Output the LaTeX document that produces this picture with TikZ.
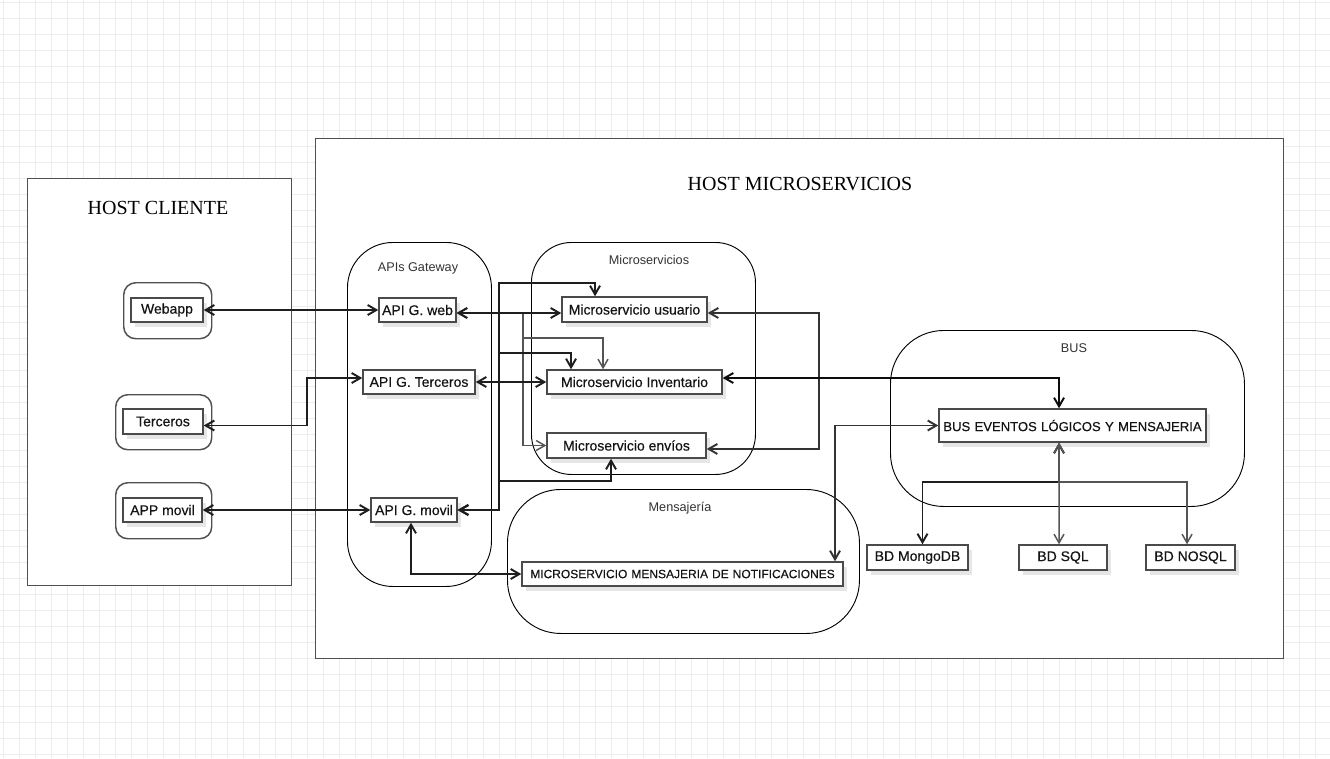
\documentclass[tikz,border=0pt]{standalone}
\usepackage{fontspec}
\setmainfont{Liberation Sans}
\newfontfamily\titlefont{Liberation Serif}
\newfontfamily\boxfont{Liberation Sans}[FakeBold=0.35]
\usetikzlibrary{arrows.meta,shadows}
\definecolor{gridc}{HTML}{EDEDED}
\definecolor{linedark}{HTML}{1E1E1E}
\definecolor{linegray}{HTML}{555555}
\definecolor{boxline}{HTML}{4A4A4A}
\definecolor{hostline}{HTML}{505050}
\definecolor{grouptext}{HTML}{333333}
\definecolor{shadowc}{HTML}{E6E6E6}
\tikzset{
  hostbox/.style={draw=hostline, line width=1.1pt, fill=white, anchor=north west, inner sep=0pt},
  grp/.style={draw=black, line width=0.7pt, anchor=north west, inner sep=0pt},
  clientgrp/.style={draw=hostline, line width=1.1pt, rounded corners=9pt, anchor=north west, inner sep=0pt},
  svc/.style={draw=boxline, line width=1.1pt, fill=white, inner sep=1.5pt, text=black!92,
    font=\boxfont\fontsize{10.5pt}{12pt}\selectfont,
    drop shadow={shadow xshift=3pt, shadow yshift=-4pt, fill=shadowc, opacity=1}},
  grplabel/.style={text=grouptext, font=\fontsize{9.5pt}{11pt}\selectfont, inner sep=0pt},
  hosttitle/.style={font=\titlefont\fontsize{15pt}{18pt}\selectfont, inner sep=0pt},
  conn/.style={draw=linedark, line width=1.45pt,
    {Straight Barb[length=6.5pt,width=7.5pt]}-{Straight Barb[length=6.5pt,width=7.5pt]}},
  connlight/.style={draw=linegray, line width=1.1pt,
    {Straight Barb[length=6.5pt,width=7.5pt]}-{Straight Barb[length=6.5pt,width=7.5pt]}},
}
\begin{document}
\begin{tikzpicture}[x=0.75pt,y=-0.75pt]
\useasboundingbox (0,0) rectangle (1330,758);
\fill[white] (0,0) rectangle (1330,758);
% background grid
\foreach \gx in {3,19,...,1330} \draw[gridc, line width=0.75pt] (\gx,0) -- (\gx,758);
\foreach \gy in {2,18,...,758} \draw[gridc, line width=0.75pt] (0,\gy) -- (1330,\gy);

% hosts
\node[hostbox, minimum width=198pt, minimum height=305.25pt] (hostc) at (27,178) {};
\node[hostbox, minimum width=726pt, minimum height=390pt] (hostm) at (315,138) {};
\node[hosttitle] (hostctitle) at (158,208) {HOST CLIENTE};
\node[hosttitle] (hostmtitle) at (800,184) {HOST MICROSERVICIOS};

% groups
\node[grp, rounded corners=34pt, minimum width=108pt, minimum height=258pt] (apig) at (347,242) {};
\node[grp, rounded corners=30pt, minimum width=168pt, minimum height=174pt] (msg) at (531,242) {};
\node[grp, rounded corners=40pt, minimum width=264pt, minimum height=108pt] (mens) at (507,489) {};
\node[grp, rounded corners=40pt, minimum width=265.5pt, minimum height=132pt] (busg) at (890,330) {};
\node[grplabel] (apiglabel) at (418,268) {APIs Gateway};
\node[grplabel] (msglabel) at (649,260) {Microservicios};
\node[grplabel] (menslabel) at (680,508) {Mensajería};
\node[grplabel] (busglabel) at (1074,348) {BUS};

% client groups
\node[clientgrp, minimum width=66pt, minimum height=42pt] (webg) at (123,282) {};
\node[clientgrp, minimum width=72pt, minimum height=41.25pt] (terg) at (115,394) {};
\node[clientgrp, minimum width=72pt, minimum height=42pt] (appg) at (115,482) {};

% boxes
\node[svc, minimum width=54pt, minimum height=18pt] (webapp) at (167,310) {Webapp};
\node[svc, minimum width=60pt, minimum height=18.75pt] (terceros) at (163,421.5) {Terceros};
\node[svc, minimum width=59.25pt, minimum height=18pt] (appmovil) at (162.5,510) {APP movil};

\node[svc, minimum width=57.75pt, minimum height=18pt] (apiweb) at (417.5,310) {API G. web};
\node[svc, minimum width=84pt, minimum height=18pt] (apiter) at (419,382) {API G. Terceros};
\node[svc, minimum width=64.5pt, minimum height=18pt] (apimov) at (414,510) {API G. movil};

\node[svc, minimum width=108.75pt, minimum height=18.75pt] (musu) at (634.5,309.5) {Microservicio usuario};
\node[svc, minimum width=131.25pt, minimum height=18pt] (minv) at (634.5,382) {Microservicio Inventario};
\node[svc, minimum width=119.25pt, minimum height=18.75pt] (menv) at (626.5,445.5) {Microservicio envíos};

\node[svc, minimum width=240.75pt, minimum height=18pt, text width=236pt, align=center,
  font=\boxfont\fontsize{9pt}{11pt}\selectfont] (mnot) at (682.5,574) {MICROSERVICIO MENSAJERIA DE NOTIFICACIONES};

\node[svc, minimum width=200.25pt, minimum height=24.75pt, text width=196pt, align=center,
  font=\boxfont\fontsize{9.8pt}{11pt}\selectfont] (bus) at (1072.5,425.5) {BUS EVENTOS LÓGICOS Y MENSAJERIA};
\node[svc, minimum width=75.75pt, minimum height=18.75pt] (mongo) at (917.5,557.5) {BD MongoDB};
\node[svc, minimum width=66pt, minimum height=18.75pt] (sql) at (1063,557.5) {BD SQL};
\node[svc, minimum width=66.75pt, minimum height=18.75pt] (nosql) at (1190.5,557.5) {BD NOSQL};

% connectors: clients to gateways
\draw[conn] (webapp.east) -- (apiweb.west);
\draw[conn] ([yshift=-3pt]terceros.east) -| (307,400) |- ([yshift=3pt]apiter.west);
\draw[conn] (appmovil.east) -- (apimov.west);

% API G. web
\draw[connlight] ([yshift=-2.25pt]apiweb.east) -| (523,338) -| ([xshift=-23.6pt]minv.north);
\draw[connlight] ([yshift=-2.25pt]apiweb.east) -| (523,400) |- (menv.west);
\draw[conn] ([yshift=-2.25pt]apiweb.east) -- ([yshift=-2.25pt]apiweb.east -| musu.west);

% API G. Terceros
\draw[conn] (apiter.east) -- (minv.west);

% API G. movil
\draw[conn] (apimov.east) -| (499,283) -| ([xshift=-29.6pt]musu.north);
\draw[conn] (apimov.east) -| (499,353) -| ([xshift=-47.6pt]minv.north);
\draw[conn] (apimov.east) -| (499,481) -| ([xshift=-11.6pt]menv.south);
\draw[conn] ([xshift=-2.25pt]apimov.south) |- (mnot.west);

% usuario <-> envios
\draw[conn, draw=black!80] ([yshift=-2.6pt]musu.east) -| (819,380) |- ([yshift=-2.6pt]menv.east);

% inventario -> bus
\draw[conn, draw=black!95] ([yshift=3pt]minv.east) -| ([xshift=-10.1pt]bus.north);

% mensajeria <-> bus
\draw[conn, draw=black!80] ([xshift=114.4pt]mnot.north) |- (bus.west);

% bus <-> databases
\draw[conn] ([xshift=-10.1pt]bus.south) |- (990,482) -| ([xshift=3.75pt]mongo.north);
\draw[connlight] ([xshift=-10.1pt]bus.south) -- ([xshift=-3pt]sql.north);
\draw[connlight] ([xshift=-10.1pt]bus.south) |- (1120,482) -| ([xshift=-2.6pt]nosql.north);
\end{tikzpicture}
\end{document}
